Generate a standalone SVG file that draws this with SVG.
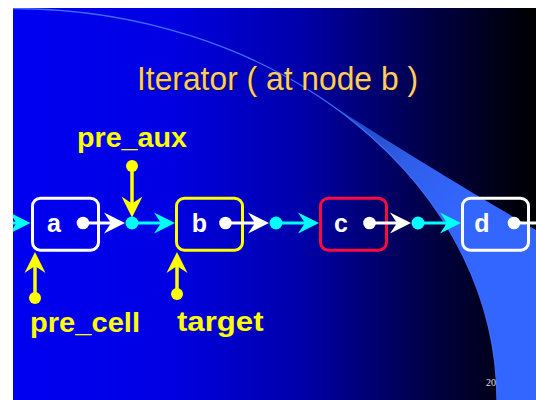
<svg xmlns="http://www.w3.org/2000/svg" width="536" height="400" viewBox="0 0 536 400">
<defs>
<linearGradient id="bg" x1="0" y1="0" x2="1" y2="0">
<stop offset="0" stop-color="#0000f2"/>
<stop offset="0.3" stop-color="#0000e2"/>
<stop offset="0.55" stop-color="#0000aa"/>
<stop offset="0.8" stop-color="#000044"/>
<stop offset="1" stop-color="#000000"/>
</linearGradient>
<linearGradient id="wedge" gradientUnits="userSpaceOnUse" x1="320" y1="97" x2="460" y2="210">
<stop offset="0" stop-color="#1a3aa8"/>
<stop offset="0.6" stop-color="#2f5ee8"/>
<stop offset="1" stop-color="#3366ff"/>
</linearGradient>
<clipPath id="slide"><rect x="13" y="8" width="523" height="392"/></clipPath>
<path id="head" d="M0 0 L-21 -10.5 L-14 0 L-21 10.5 Z"/>
<style>
.box{fill:none;stroke-width:3}
.lbl{font-family:"Liberation Sans",Arial,sans-serif;font-weight:bold;font-size:25px;fill:#ffffff;text-anchor:middle}
.ptr{font-family:"Liberation Sans",Arial,sans-serif;font-weight:bold;font-size:28px;fill:#ffff00}
.wl{stroke:#ffffff;stroke-width:3}
.cl{stroke:#00ffff;stroke-width:3}
.yl{stroke:#ffff00;stroke-width:3.5}
</style>
</defs>
<rect x="0" y="0" width="536" height="400" fill="#ffffff"/>
<rect x="13" y="8" width="523" height="392" fill="url(#bg)"/>
<g clip-path="url(#slide)">
<path d="M320 97.3 C380 137 460 186 536 230 L536 400 L497 400 A484 391.5 0 0 0 320 97.3 Z" fill="url(#wedge)"/>
<path d="M13 8.5 A484 391.5 0 0 1 497 400" fill="none" stroke="#3f6cff" stroke-width="1.3"/>
</g>
<g id="title">
<text x="279" y="91" font-family="'Liberation Sans',Arial,sans-serif" font-size="33" fill="#0a0a40" text-anchor="middle" textLength="281" lengthAdjust="spacingAndGlyphs">Iterator ( at node b )</text>
<text x="277.5" y="89.5" font-family="'Liberation Sans',Arial,sans-serif" font-size="33" fill="#ffcc66" text-anchor="middle" textLength="281" lengthAdjust="spacingAndGlyphs">Iterator ( at node b )</text>
</g>
<g id="node-a">
<rect class="box" x="32.5" y="198.2" width="66" height="52" rx="8" stroke="#ffffff"/>
<text class="lbl" x="54" y="232">a</text>
<circle cx="83" cy="223" r="6.3" fill="#ffffff"/>
</g>
<g id="node-b">
<rect class="box" x="176.5" y="198.2" width="66" height="52" rx="8" stroke="#ffff00"/>
<text class="lbl" x="199.5" y="232">b</text>
<circle cx="225.5" cy="223" r="6.3" fill="#ffffff"/>
</g>
<g id="node-c">
<rect class="box" x="320.5" y="198.2" width="66" height="52" rx="8" stroke="#ff0a3c"/>
<text class="lbl" x="341" y="232">c</text>
<circle cx="369.5" cy="223" r="6.3" fill="#ffffff"/>
</g>
<g id="node-d">
<rect class="box" x="462.5" y="198.2" width="66" height="52" rx="8" stroke="#ffffff"/>
<text class="lbl" x="482" y="232">d</text>
<circle cx="514" cy="223" r="6.3" fill="#ffffff"/>
</g>
<g id="connectors">
<g clip-path="url(#slide)">
<line class="cl" x1="0" y1="223" x2="24" y2="223"/>
<use href="#head" transform="translate(30.5 223)" fill="#00ffff"/>
</g>
<line class="wl" x1="83" y1="223" x2="118" y2="223"/>
<use href="#head" transform="translate(125 223)" fill="#ffffff"/>
<line class="cl" x1="132" y1="223" x2="168" y2="223"/>
<use href="#head" transform="translate(175 223)" fill="#00ffff"/>
<line class="wl" x1="225.5" y1="223" x2="262" y2="223"/>
<use href="#head" transform="translate(269 223)" fill="#ffffff"/>
<line class="cl" x1="276" y1="223" x2="312" y2="223"/>
<use href="#head" transform="translate(319 223)" fill="#00ffff"/>
<line class="wl" x1="369.5" y1="223" x2="404" y2="223"/>
<use href="#head" transform="translate(411 223)" fill="#ffffff"/>
<line class="cl" x1="418" y1="223" x2="454" y2="223"/>
<use href="#head" transform="translate(461 223)" fill="#00ffff"/>
<line class="wl" x1="514" y1="223" x2="536" y2="223"/>
<line class="yl" x1="132" y1="166" x2="132" y2="210"/>
<use href="#head" transform="translate(132 217.5) rotate(90)" fill="#ffff00"/>
<line class="yl" x1="35" y1="298" x2="35" y2="260"/>
<use href="#head" transform="translate(35 252) rotate(-90)" fill="#ffff00"/>
<line class="yl" x1="177" y1="294" x2="177" y2="260"/>
<use href="#head" transform="translate(177 252) rotate(-90)" fill="#ffff00"/>
<circle cx="132" cy="223" r="6.5" fill="#00ffff"/>
<circle cx="276" cy="223" r="6.5" fill="#00ffff"/>
<circle cx="418" cy="223" r="6.5" fill="#00ffff"/>
</g>
<g id="pre_aux">
<circle cx="132" cy="166" r="6" fill="#ffff00"/>
<text class="ptr" x="77" y="147" textLength="110" lengthAdjust="spacingAndGlyphs">pre_aux</text>
</g>
<g id="pre_cell">
<circle cx="35" cy="298" r="6" fill="#ffff00"/>
<text class="ptr" x="30" y="331.5" textLength="110" lengthAdjust="spacingAndGlyphs">pre_cell</text>
</g>
<g id="target">
<circle cx="177" cy="294" r="6" fill="#ffff00"/>
<text class="ptr" x="177" y="331" textLength="86.5" lengthAdjust="spacingAndGlyphs">target</text>
</g>
<text x="486" y="386" font-family="'Liberation Serif','Times New Roman',serif" font-size="10" fill="#e0e0e0">20</text>
</svg>
